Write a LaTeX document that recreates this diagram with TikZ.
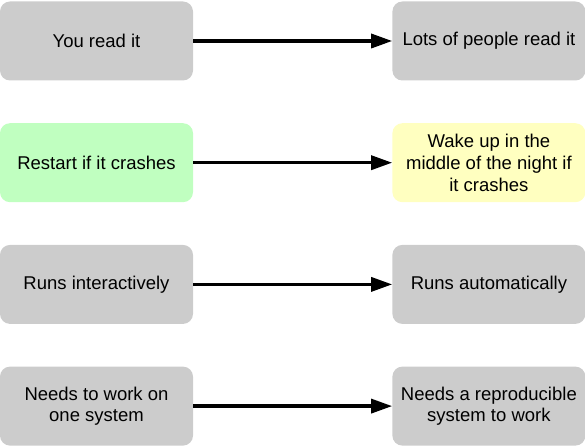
\documentclass[tikz,border=0pt]{standalone}
\usepackage{fontspec}
\setmainfont{Liberation Sans}
\usetikzlibrary{arrows.meta, positioning}
\definecolor{boxgray}{HTML}{CCCCCC}
\definecolor{boxgreen}{HTML}{C0FFC0}
\definecolor{boxyellow}{HTML}{FFFFC0}

\begin{document}
\begin{tikzpicture}[x=1pt, y=1pt,
    box/.style={rectangle, rounded corners=10pt, fill=boxgray, minimum width=193pt, minimum height=79pt, inner sep=0pt, align=center, font=\fontsize{18.5}{21.7}\selectfont},
    flow/.style={-{Triangle[length=21pt, width=14pt]}, line width=3.3pt}]
    \useasboundingbox (0,0) rectangle (585,445);

    % Left column
    \node[box] (youread) at (96.5,404) {You read it};
    \node[box, fill=boxgreen, below=42.3pt of youread] (restart) {Restart if it crashes};
    \node[box, below=42.3pt of restart] (interactive) {Runs interactively};
    \node[box, below=42.3pt of interactive] (onesystem) {Needs to work on\\one system};

    % Right column
    \node[box, right=199pt of youread] (manyread) {Lots of people read it};
    \node[box, fill=boxyellow, right=199pt of restart] (wakeup) {Wake up in the\\middle of the night if\\it crashes};
    \node[box, right=199pt of interactive] (automatic) {Runs automatically};
    \node[box, right=199pt of onesystem] (reproducible) {Needs a reproducible\\system to work};

    % Arrows
    \draw[flow] (youread) -- (manyread);
    \draw[flow] (restart) -- (wakeup);
    \draw[flow] (interactive) -- (automatic);
    \draw[flow] (onesystem) -- (reproducible);
\end{tikzpicture}
\end{document}
